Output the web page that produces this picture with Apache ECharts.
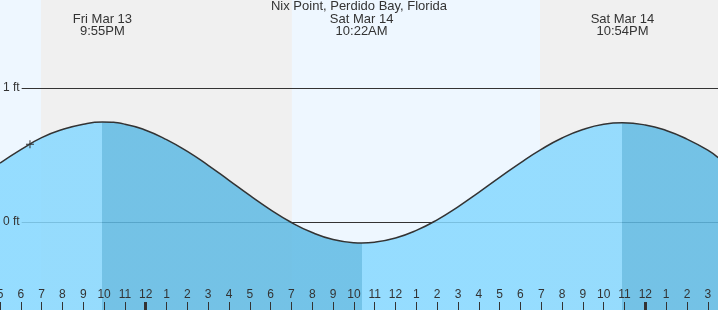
<!DOCTYPE html>
<html>
<head>
<meta charset="utf-8">
<script src="https://cdn.jsdelivr.net/npm/echarts@6/dist/echarts.min.js"></script>
<style>html,body{margin:0;padding:0;background:#fff}#c{width:718px;height:310px}</style>
</head>
<body>
<div id="c"></div>
<script>
// hours relative to midnight starting Sat Mar 14
var tideHours = [-7,-6,-5,-4,-3,-2.08,-1,0,1,2,3,4,5,6,7,8,9,10,10.37,11,12,13,14,15,16,17,18,19,20,21,22,22.9,24,25,26,27,27.5];
var tideFeet  = [0.44,0.54,0.63,0.69,0.73,0.746,0.73,0.685,0.615,0.527,0.423,0.311,0.198,0.091,-0.004,-0.079,-0.131,-0.155,-0.157,-0.151,-0.12,-0.063,0.016,0.113,0.221,0.333,0.442,0.542,0.627,0.69,0.729,0.74,0.724,0.683,0.619,0.536,0.48];

var eventHours = [-2.08, 10.37, 22.9];
var eventDates = ['Fri Mar 13', 'Sat Mar 14', 'Sat Mar 14'];
var eventTimes = ['9:55PM', '10:22AM', '10:54PM'];

var dayStart = [-7, 7.02];
var dayEnd   = [-5.03, 18.94];

var tickHours  = [-7,-6,-5,-4,-3,-2,-1,0,1,2,3,4,5,6,7,8,9,10,11,12,13,14,15,16,17,18,19,20,21,22,23,24,25,26,27];
var tickLabels = ['5','6','7','8','9','10','11','12','1','2','3','4','5','6','7','8','9','10','11','12','1','2','3','4','5','6','7','8','9','10','11','12','1','2','3'];
var midnightHours = [0, 24];

var levelLines = [0, 1];
var levelLabels = ['0 ft', '1 ft'];

var nowHour = -5.56;
var nowFeet = 0.58;

var title = 'Nix Point, Perdido Bay, Florida';

var X_MIN = -7, X_MAX = 27.49, Y_MIN = -0.657, Y_MAX = 1.657;
var LIGHT = '#86d8ff', DARK = '#5ebae4';
var FONT = '"Liberation Sans", Arial, sans-serif';

var pieces = [];
var edges = [-Infinity].concat(eventHours).concat([Infinity]);
for (var i = 0; i < edges.length - 1; i++) {
  var p = { color: i % 2 === 0 ? LIGHT : DARK };
  if (edges[i] !== -Infinity) p.gte = edges[i];
  if (edges[i+1] !== Infinity) p.lt = edges[i+1];
  pieces.push(p);
}

var chart = echarts.init(document.getElementById('c'), null, { renderer: 'canvas' });
var option = {
  animation: false,
  textStyle: { fontFamily: FONT },
  title: {
    text: title, left: 'center', top: 0, padding: 0, z: 10,
    textStyle: { fontSize: 13, fontWeight: 'normal', color: '#333', fontFamily: FONT }
  },
  grid: { left: 0, right: 0, top: 0, bottom: 0, show: true, backgroundColor: '#f0f0f0', borderWidth: 0, outerBoundsMode: 'none', containLabel: false, z: 0 },
  xAxis: [{
    type: 'value', min: X_MIN, max: X_MAX, position: 'bottom', z: 6,
    axisLine: { show: false, onZero: false }, splitLine: { show: false },
    axisTick: { show: true, inside: true, length: 8, customValues: tickHours, lineStyle: { color: '#333', width: 1 } },
    axisLabel: {
      show: true, inside: true, margin: 9, customValues: tickHours, fontSize: 12, color: '#333', fontFamily: FONT,
      showMinLabel: true, showMaxLabel: true,
      formatter: function (v) { var k = tickHours.indexOf(v); return k >= 0 ? tickLabels[k] : ''; }
    }
  }, {
    type: 'value', min: X_MIN, max: X_MAX, position: 'bottom', z: 6,
    axisLine: { show: false, onZero: false }, splitLine: { show: false },
    axisTick: { show: true, inside: true, length: 8, customValues: midnightHours, lineStyle: { color: '#333', width: 3 } },
    axisLabel: { show: false }
  }],
  yAxis: {
    type: 'value', min: Y_MIN, max: Y_MAX, z: 7,
    axisLine: { show: false, onZero: false }, splitLine: { show: false }, axisTick: { show: false },
    axisLabel: {
      show: true, inside: true, margin: 0, customValues: levelLines, fontSize: 12, color: '#333', fontFamily: FONT,
      formatter: function (v) { var k = levelLines.indexOf(v); return v >= 0.5 ? '{a|' + levelLabels[k] + '}' : '{b|' + levelLabels[k] + '}'; },
      rich: {
        a: { backgroundColor: '#eef7ff', padding: [2, 2, 2, 3], fontSize: 12, color: '#333', fontFamily: FONT },
        b: { backgroundColor: '#96ddff', padding: [2, 2, 2, 3], fontSize: 12, color: '#333', fontFamily: FONT }
      }
    }
  },
  visualMap: {
    type: 'piecewise', show: false, dimension: 0, seriesIndex: 2, pieces: pieces
  },
  series: [
    {
      type: 'line', z: 1, data: [], silent: true,
      markArea: {
        z: 1, silent: true, label: { show: false },
        itemStyle: { color: '#eef7ff' },
        data: dayStart.map(function (s, i) { return [{ xAxis: s }, { xAxis: dayEnd[i] }]; })
      }
    },
    {
      type: 'line', z: 2, data: [], silent: true,
      markLine: {
        z: 2, silent: true, symbol: 'none', label: { show: false },
        lineStyle: { color: '#333', width: 1, type: 'solid' },
        data: levelLines.map(function (v) { return { yAxis: v }; })
      }
    },
    {
      type: 'line', z: 3, smooth: true, showSymbol: false, silent: true,
      data: tideHours.map(function (h, i) { return [h, tideFeet[i]]; }),
      lineStyle: { width: 0 },
      areaStyle: { origin: 'start', opacity: 0.85 }
    },
    {
      type: 'line', z: 4, smooth: true, showSymbol: false, silent: true,
      data: tideHours.map(function (h, i) { return [h, tideFeet[i]]; }),
      lineStyle: { color: '#333', width: 1.5 },
      itemStyle: { color: '#333' },
      markPoint: {
        z: 5, silent: true,
        data: eventHours.map(function (t, i) {
          return {
            coord: [t, Y_MAX], symbolSize: 0,
            label: { show: true, position: 'inside', offset: [0, 25.5], formatter: eventDates[i] + '\n' + eventTimes[i],
                     fontSize: 13, lineHeight: 12, color: '#333', fontFamily: FONT }
          };
        }).concat([{
          coord: [nowHour, nowFeet], symbol: 'path://M0,3.5h8v1h-8z M3.5,0h1v8h-1z', symbolSize: 8,
          itemStyle: { color: '#333' }, label: { show: false }
        }])
      }
    }
  ]
};
chart.setOption(option);
</script>
</body>
</html>
